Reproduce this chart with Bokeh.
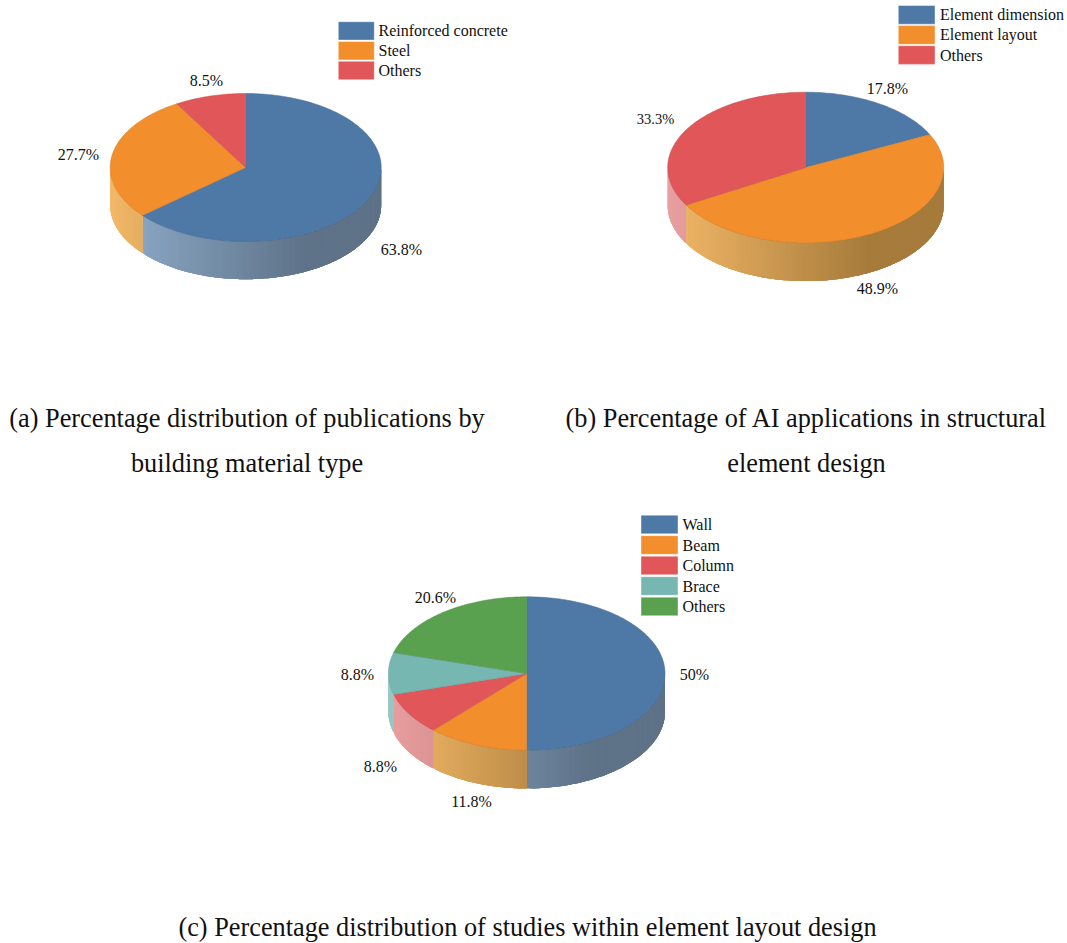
import numpy as np
from bokeh.plotting import figure
from bokeh.models import Range1d
from bokeh.core.properties import value
from bokeh.embed import file_html
from bokeh.resources import INLINE

# ---- data ----
names_a = ["Reinforced concrete", "Steel", "Others"]
values_a = [63.8, 27.7, 8.5]
labels_a = ["63.8%", "27.7%", "8.5%"]

names_b = ["Element dimension", "Element layout", "Others"]
values_b = [17.8, 48.9, 33.3]
labels_b = ["17.8%", "48.9%", "33.3%"]

names_c = ["Wall", "Beam", "Column", "Brace", "Others"]
values_c = [50, 11.8, 8.8, 8.8, 20.6]
labels_c = ["50%", "11.8%", "8.8%", "8.8%", "20.6%"]

captions = [
    "(a) Percentage distribution of publications by", "building material type",
    "(b) Percentage of AI applications in structural", "element design",
    "(c) Percentage distribution of studies within element layout design",
]

# ---- styles ----
TOP = ["#4e79a7", "#f28e2b", "#e15759", "#76b7b2", "#59a14f"]
EDGE = ["#44698f", "#cf7a28", "#c24c4e", "#66a09b", "#4e8c45"]
LIGHT = ["#8fadcb", "#f3b868", "#e99fa0", "#98c8c4", "#92c48a"]
DARK = ["#5e7288", "#a67b3b", "#b06a6a", "#6f9491", "#5f8a58"]
SERIF = value("Liberation Serif")


def hex_rgb(h):
    return np.array([int(h[i:i + 2], 16) for i in (1, 3, 5)], dtype=float)


def mix(a, b, t):
    c = hex_rgb(a) * (1 - t) + hex_rgb(b) * t
    return "#%02x%02x%02x" % tuple(int(round(v)) for v in c)


p = figure(width=1067, height=943, output_backend="svg", toolbar_location=None,
           x_range=Range1d(0, 1067), y_range=Range1d(943, 0),
           min_border=0, outline_line_color=None, background_fill_color="white")
p.axis.visible = False
p.grid.visible = False


def pie(vals, cx, cy, rx, ry, depth):
    edges = np.cumsum([0] + list(vals)) / sum(vals) * 2 * np.pi
    sx, sy, sc = [], [], []
    # front wall: visible between 90 and 270 degrees clockwise from the top
    for i in range(len(vals)):
        a0, a1 = max(edges[i], np.pi / 2), min(edges[i + 1], 1.5 * np.pi)
        if a1 <= a0:
            continue
        n = max(2, int((a1 - a0) / np.radians(1.0)))
        th = np.linspace(a0, a1, n + 1)
        # painted left to right, every strip running under its next neighbours
        for k in range(n - 1, -1, -1):
            arc = th[max(0, k - 3):k + 2]
            xs = cx + rx * np.sin(arc)
            ys = cy - ry * np.cos(arc)
            sx.append(list(xs) + list(xs[::-1]))
            sy.append(list(ys) + list((ys + depth)[::-1]))
            xm = cx + rx * np.sin((th[k] + th[k + 1]) / 2)
            t = min(1.0, (xm - (cx - rx)) / (1.45 * rx))
            sc.append(mix(LIGHT[i], DARK[i], t))
    p.patches(sx, sy, fill_color=sc, line_color=None)
    # top face
    tx, ty = [], []
    for i in range(len(vals)):
        n = max(3, int((edges[i + 1] - edges[i]) / np.radians(1)))
        th = np.linspace(edges[i], edges[i + 1], n + 1)
        tx.append([cx] + list(cx + rx * np.sin(th)))
        ty.append([cy] + list(cy - ry * np.cos(th)))
    p.patches(tx, ty, fill_color=TOP[:len(vals)], line_color=EDGE[:len(vals)],
              line_width=0.7, line_alpha=0.7)


def legend(names, x0, x1, ytop, h, step, tx):
    n = len(names)
    tops = [ytop + i * step for i in range(n)]
    p.quad(left=[x0] * n, right=[x1] * n, top=tops, bottom=[t + h for t in tops],
           fill_color=TOP[:n], line_color="#ffffff", line_alpha=0.6, line_width=0.7)
    p.text([tx] * n, [t + h / 2 for t in tops], text=names, text_font=SERIF,
           text_font_size="16px", text_color="#111111",
           text_align="left", text_baseline="middle")


def labels(texts, xs, ys, size="16px"):
    p.text(xs, ys, text=texts, text_font=SERIF, text_font_size=size,
           text_color="#111111", text_align="center", text_baseline="middle")


pie(values_a, 245.2, 167, 135.5, 74, 37.7)
pie(values_b, 805.2, 167, 138, 75.3, 38.3)
pie(values_c, 526.2, 673, 138.3, 76.7, 38.3)

legend(names_a, 337.8, 373.8, 21.2, 18.4, 19.8, 378)
legend(names_b, 897.8, 934.5, 5, 18.7, 20.1, 939.5)
legend(names_c, 640.5, 677.5, 514.7, 18.6, 20.5, 682)

labels(labels_a, [401, 78, 206], [249, 154, 80])
labels(labels_b[:2], [887, 877], [88, 288])
labels(labels_b[2:], [655], [118], size="14.5px")
labels(labels_c, [694, 471, 380, 357, 435], [674, 801, 766, 674, 597])

p.text([246.5, 246.5, 806, 806, 527], [418, 463, 418, 463, 927], text=captions,
       text_font=SERIF, text_font_size="26.3px", text_color="#111111",
       text_align="center", text_baseline="middle")

open("out.html", "w").write(file_html(p, INLINE))
